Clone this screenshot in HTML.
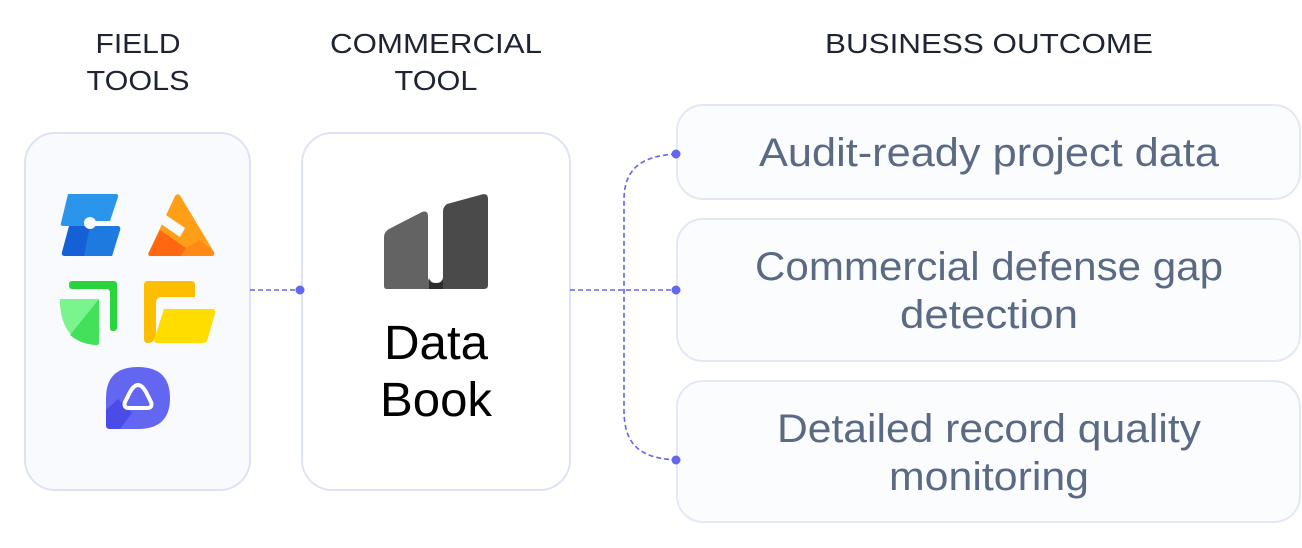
<!DOCTYPE html>
<html><head><meta charset="utf-8"><style>
html,body{margin:0;padding:0;background:#fff;}
svg{display:block;}
text{font-family:"Liberation Sans",sans-serif;}
</style></head><body>
<svg width="1302" height="548" viewBox="0 0 1302 548" xmlns="http://www.w3.org/2000/svg">
<g fill="#1e2433" font-size="28" text-anchor="middle" lengthAdjust="spacingAndGlyphs">
<text x="138" y="53" textLength="85" lengthAdjust="spacingAndGlyphs">FIELD</text>
<text x="138" y="90" textLength="103" lengthAdjust="spacingAndGlyphs">TOOLS</text>
<text x="436" y="53" textLength="212" lengthAdjust="spacingAndGlyphs">COMMERCIAL</text>
<text x="436" y="90" textLength="83" lengthAdjust="spacingAndGlyphs">TOOL</text>
<text x="989" y="53" textLength="328" lengthAdjust="spacingAndGlyphs">BUSINESS OUTCOME</text>
</g>
<rect x="25" y="133" width="225" height="357" rx="30" fill="#f9fafd" stroke="#dde3f5" stroke-width="2"/>
<rect x="302" y="133" width="268" height="357" rx="30" fill="#fff" stroke="#dde3f5" stroke-width="2"/>
<rect x="677" y="105" width="623" height="94" rx="26" fill="#fbfcfe" stroke="#e3e8f7" stroke-width="2"/>
<rect x="677" y="219" width="623" height="142" rx="26" fill="#fbfcfe" stroke="#e3e8f7" stroke-width="2"/>
<rect x="677" y="381" width="623" height="141" rx="26" fill="#fbfcfe" stroke="#e3e8f7" stroke-width="2"/>
<g stroke="#6366f1" stroke-width="1.6" stroke-dasharray="5 3" fill="none">
<line x1="250" y1="290" x2="300" y2="290"/>
<line x1="570" y1="290" x2="676" y2="290"/>
<path d="M676 154 C640 156 624 170 624 200 L624 410 C624 445 640 458 676 460"/>
</g>
<g fill="#6366f1">
<circle cx="300" cy="290" r="4.5"/>
<circle cx="676" cy="154" r="4.5"/>
<circle cx="676" cy="290" r="4.5"/>
<circle cx="676" cy="460" r="4.5"/>
</g>
<!-- blue -->
<path d="M68 194 H116 Q119 194 118 197 L110 221 H92 Q86 221 84 226 H63 Q60 226 61 223 Z" fill="#2b95ec"/>
<path d="M69 226 H117 Q121 226 120 230 L112 256 H65 Q61 256 62 252 Z" fill="#1560d6"/>
<path d="M90 226 H117 Q121 226 120 230 L112 256 H84 Z" fill="#1f7ae0"/>
<circle cx="90" cy="223" r="6" fill="#f9fafd"/>
<!-- orange -->
<path d="M175 196 Q178 192 181 197 L214 252 Q215 256 211 256 H151 Q147 256 149 252 Z" fill="#ff9f18"/>
<path d="M149 252 L160 230 L186 248 L181 256 H151 Q147 256 149 252 Z" fill="#ff6810"/>
<path d="M181 256 L186 248 L200 240 L214 252 Q215 256 211 256 Z" fill="#ff8a16"/>
<path d="M163 213 L185 228 L180 237 L158 222 Z" fill="#f9fafd"/>
<!-- green -->
<path d="M72 281 H114 Q117 281 117 284 V328 Q117 331 113 331 Q110 331 110 328 V293 Q110 289 106 289 H72 Q69 289 69 285 Q69 281 72 281 Z" fill="#2ad43c"/>
<path d="M60 299 H99 V343 Q99 345 96 345 Q63 343 60 305 Z" fill="#7af58e"/>
<path d="M99 299 V343 Q99 345 96 345 Q80 344 70 335 Z" fill="#42e159"/>
<!-- yellow -->
<path d="M148 281 H191 Q195 281 195 285 V297 H162 Q156 297 156 303 V330 Q156 343 148 343 Q144 343 144 339 V285 Q144 281 148 281 Z" fill="#fdbd00"/>
<path d="M164 309 H212 Q216 309 215 313 L208 338 Q207 343 203 343 H158 Q152 343 155 337 Z" fill="#ffdd00"/>
<!-- purple -->
<path d="M138 367 Q170 367 170 398 Q170 429 138 429 H110 Q106 429 106 425 V398 Q106 367 138 367 Z" fill="#6366f1"/>
<path d="M106 410 L118 399 L132 413 L120 429 H110 Q106 429 106 425 Z" fill="#4a4ce8"/>
<path d="M138 385 Q142 385 146 392 L151 402 Q153 408 147 408 H129 Q123 408 125 402 L130 392 Q134 385 138 385 Z" fill="none" stroke="#fff" stroke-width="4"/>
<!-- data book logo -->
<path d="M384 237 Q384 232 389 229 L422 212 Q428 210 428 216 V276 Q428 283 434 283 L436 289 H387 Q384 289 384 286 Z" fill="#636363"/>
<path d="M443 211 Q443 207 447 204 L480 195 Q488 192 488 199 V285 Q488 289 484 289 H436 L438 283 Q443 283 443 276 Z" fill="#4a4a4a"/>
<path d="M429 278 Q430 283 436 283 Q442 283 443 278 V289 H429 Z" fill="#2e2e2e"/>
<text x="436" y="359" font-size="48" fill="#000" text-anchor="middle" textLength="104" lengthAdjust="spacingAndGlyphs">Data</text>
<text x="436" y="416" font-size="48" fill="#000" text-anchor="middle" textLength="112" lengthAdjust="spacingAndGlyphs">Book</text>
<g fill="#5a6a85" font-size="40" text-anchor="middle">
<text x="989" y="166" textLength="460" lengthAdjust="spacingAndGlyphs">Audit-ready project data</text>
<text x="989" y="280" textLength="468" lengthAdjust="spacingAndGlyphs">Commercial defense gap</text>
<text x="989" y="328" textLength="178" lengthAdjust="spacingAndGlyphs">detection</text>
<text x="989" y="442" textLength="424" lengthAdjust="spacingAndGlyphs">Detailed record quality</text>
<text x="989" y="490" textLength="200" lengthAdjust="spacingAndGlyphs">monitoring</text>
</g>
</svg>
</body></html>
